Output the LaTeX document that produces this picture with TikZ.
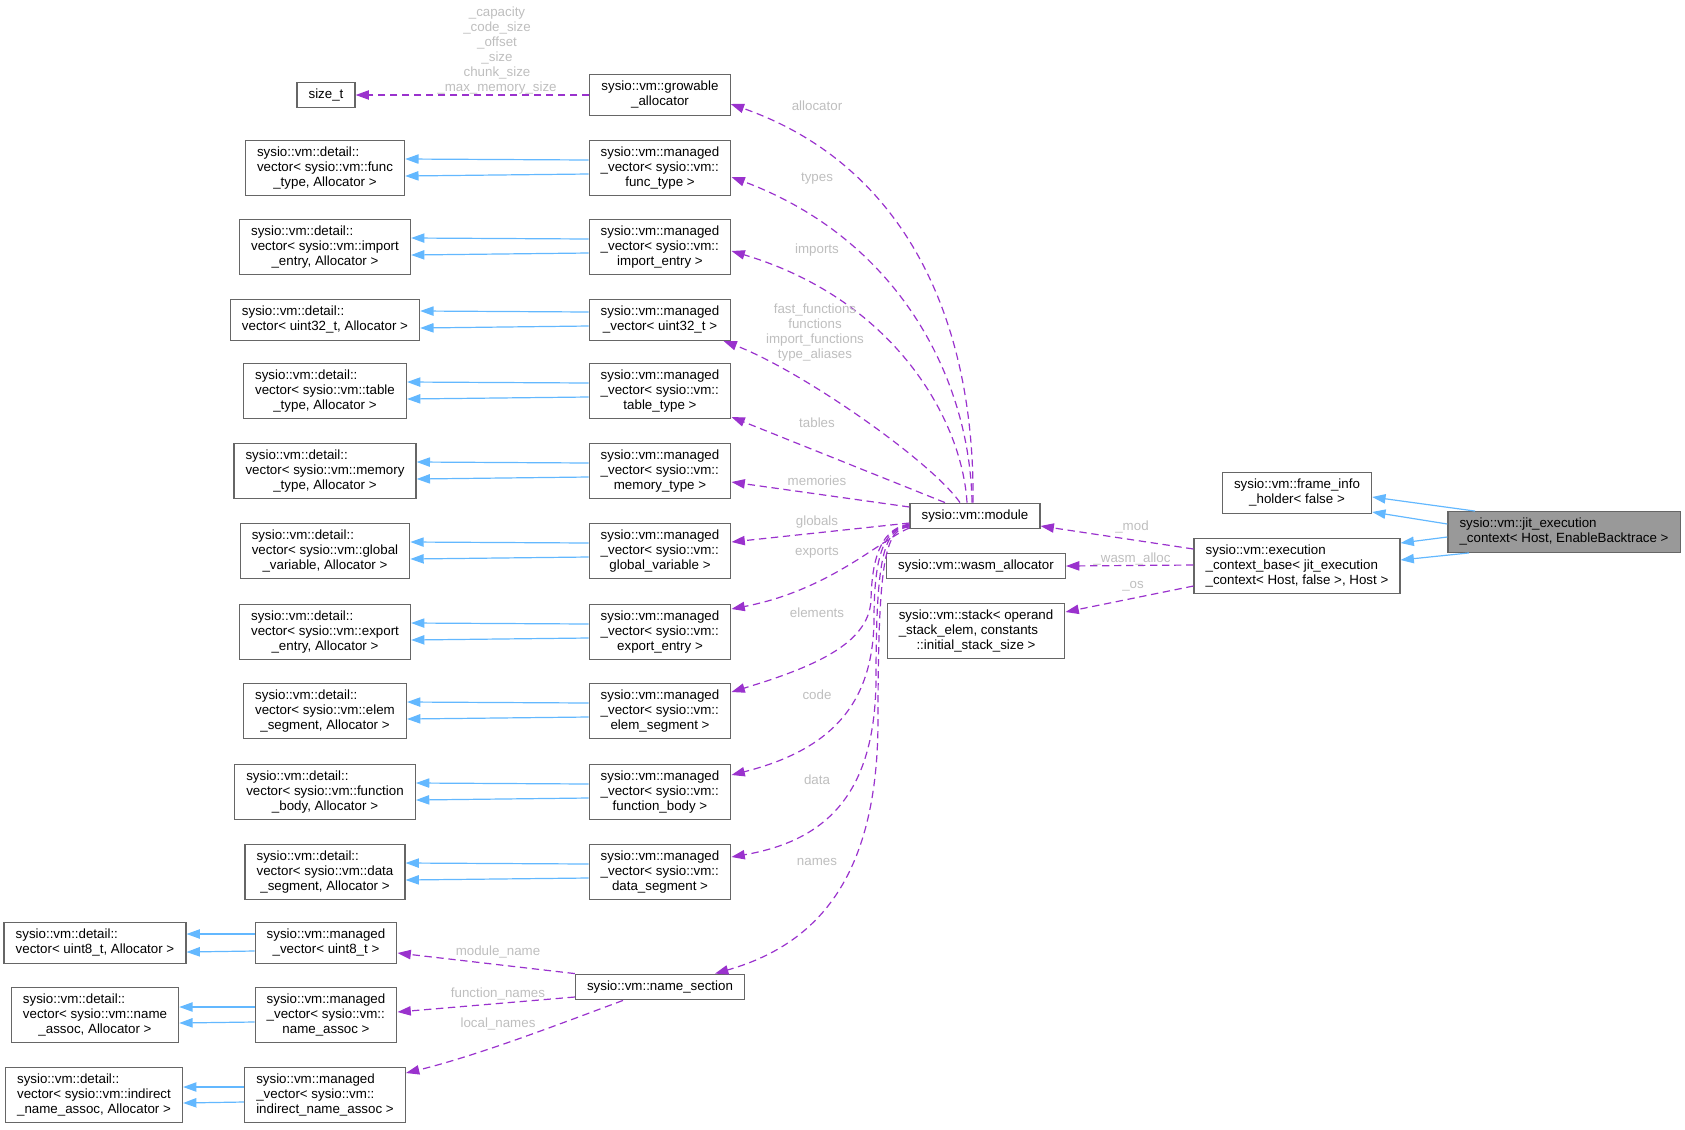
\documentclass[tikz,border=0pt]{standalone}
\usepackage{fontspec}
\setmainfont{Liberation Sans}
\usetikzlibrary{arrows.meta,calc}
\definecolor{boxline}{HTML}{666666}
\definecolor{curfill}{HTML}{999999}
\definecolor{membcol}{HTML}{9A32CD}
\definecolor{inhcol}{HTML}{63B8FF}
\definecolor{lblgrey}{HTML}{BEBEBE}
\newcommand{\boxlines}[2]{\begin{tabular}{@{}l@{}}#1\\\multicolumn{1}{@{}c@{}}{#2}\end{tabular}}
\tikzset{
  cls/.style={draw=boxline, fill=white, line width=0.9pt, inner xsep=8.7pt, inner ysep=4pt,
              font=\fontsize{10}{11.25}\selectfont},
  cur/.style={cls, fill=curfill},
  dep/.style={draw=membcol, line width=0.9pt, dash pattern=on 5.5pt off 3.5pt,
              -{Triangle[length=10pt,width=7pt]}},
  inh/.style={draw=inhcol, line width=0.9pt, -{Triangle[length=10pt,width=7pt]}},
  elbl/.style={font=\fontsize{10}{11.25}\selectfont, text=lblgrey, inner sep=0pt, align=center},
}

\begin{document}
\begin{tikzpicture}[x=0.75pt, y=-0.75pt]
\useasboundingbox (0,0) rectangle (1685,1129);

% --- MANAGED VECTORS ---
\node[cls] (sizet) at (326,95) {\strut size\_t};
\node[cls] (grow) at (660,95) {\boxlines{sysio::vm::growable}{\_allocator}};

\node[cls] (dvfunc) at (325,168) {\boxlines{sysio::vm::detail::\\vector< sysio::vm::func}{\_type, Allocator >}};
\node[cls] (mvfunc) at (660,168) {\boxlines{sysio::vm::managed\\\_vector< sysio::vm::}{func\_type >}};
\node[cls] (dvimp) at (325,247) {\boxlines{sysio::vm::detail::\\vector< sysio::vm::import}{\_entry, Allocator >}};
\node[cls] (mvimp) at (660,247) {\boxlines{sysio::vm::managed\\\_vector< sysio::vm::}{import\_entry >}};
\node[cls] (dvu32) at (325,320) {\boxlines{sysio::vm::detail::}{vector< uint32\_t, Allocator >}};
\node[cls] (mvu32) at (660,320) {\boxlines{sysio::vm::managed}{\_vector< uint32\_t >}};
\node[cls] (dvtab) at (325,391) {\boxlines{sysio::vm::detail::\\vector< sysio::vm::table}{\_type, Allocator >}};
\node[cls] (mvtab) at (660,391) {\boxlines{sysio::vm::managed\\\_vector< sysio::vm::}{table\_type >}};
\node[cls] (dvmem) at (325,471) {\boxlines{sysio::vm::detail::\\vector< sysio::vm::memory}{\_type, Allocator >}};
\node[cls] (mvmem) at (660,471) {\boxlines{sysio::vm::managed\\\_vector< sysio::vm::}{memory\_type >}};
\node[cls] (dvglob) at (325,551) {\boxlines{sysio::vm::detail::\\vector< sysio::vm::global}{\_variable, Allocator >}};
\node[cls] (mvglob) at (660,551) {\boxlines{sysio::vm::managed\\\_vector< sysio::vm::}{global\_variable >}};
\node[cls] (dvexp) at (325,632) {\boxlines{sysio::vm::detail::\\vector< sysio::vm::export}{\_entry, Allocator >}};
\node[cls] (mvexp) at (660,632) {\boxlines{sysio::vm::managed\\\_vector< sysio::vm::}{export\_entry >}};
\node[cls] (dvelem) at (325,711) {\boxlines{sysio::vm::detail::\\vector< sysio::vm::elem}{\_segment, Allocator >}};
\node[cls] (mvelem) at (660,711) {\boxlines{sysio::vm::managed\\\_vector< sysio::vm::}{elem\_segment >}};
\node[cls] (dvbody) at (325,792) {\boxlines{sysio::vm::detail::\\vector< sysio::vm::function}{\_body, Allocator >}};
\node[cls] (mvbody) at (660,792) {\boxlines{sysio::vm::managed\\\_vector< sysio::vm::}{function\_body >}};
\node[cls] (dvdata) at (325,872) {\boxlines{sysio::vm::detail::\\vector< sysio::vm::data}{\_segment, Allocator >}};
\node[cls] (mvdata) at (660,872) {\boxlines{sysio::vm::managed\\\_vector< sysio::vm::}{data\_segment >}};

\draw[dep] (grow.west) -- (sizet.east);
\node[elbl] (lsize) at (497,51) {\_capacity\\\_code\_size\\\_offset\\\_size\\chunk\_size\\\_max\_memory\_size};

\draw[inh] ($(mvfunc.west)+(0,-8)$) -- ($(dvfunc.east)+(0,-9)$);
\draw[inh] ($(mvfunc.west)+(0,6)$) -- ($(dvfunc.east)+(0,8)$);
\draw[inh] ($(mvimp.west)+(0,-8)$) -- ($(dvimp.east)+(0,-9)$);
\draw[inh] ($(mvimp.west)+(0,6)$) -- ($(dvimp.east)+(0,8)$);
\draw[inh] ($(mvu32.west)+(0,-8)$) -- ($(dvu32.east)+(0,-9)$);
\draw[inh] ($(mvu32.west)+(0,6)$) -- ($(dvu32.east)+(0,8)$);
\draw[inh] ($(mvtab.west)+(0,-8)$) -- ($(dvtab.east)+(0,-9)$);
\draw[inh] ($(mvtab.west)+(0,6)$) -- ($(dvtab.east)+(0,8)$);
\draw[inh] ($(mvmem.west)+(0,-8)$) -- ($(dvmem.east)+(0,-9)$);
\draw[inh] ($(mvmem.west)+(0,6)$) -- ($(dvmem.east)+(0,8)$);
\draw[inh] ($(mvglob.west)+(0,-8)$) -- ($(dvglob.east)+(0,-9)$);
\draw[inh] ($(mvglob.west)+(0,6)$) -- ($(dvglob.east)+(0,8)$);
\draw[inh] ($(mvexp.west)+(0,-8)$) -- ($(dvexp.east)+(0,-9)$);
\draw[inh] ($(mvexp.west)+(0,6)$) -- ($(dvexp.east)+(0,8)$);
\draw[inh] ($(mvelem.west)+(0,-8)$) -- ($(dvelem.east)+(0,-9)$);
\draw[inh] ($(mvelem.west)+(0,6)$) -- ($(dvelem.east)+(0,8)$);
\draw[inh] ($(mvbody.west)+(0,-8)$) -- ($(dvbody.east)+(0,-9)$);
\draw[inh] ($(mvbody.west)+(0,6)$) -- ($(dvbody.east)+(0,8)$);
\draw[inh] ($(mvdata.west)+(0,-8)$) -- ($(dvdata.east)+(0,-9)$);
\draw[inh] ($(mvdata.west)+(0,6)$) -- ($(dvdata.east)+(0,8)$);

% --- NAME SECTION ---
\node[cls] (dvu8) at (95,943) {\boxlines{sysio::vm::detail::}{vector< uint8\_t, Allocator >}};
\node[cls] (mvu8) at (326,943) {\boxlines{sysio::vm::managed}{\_vector< uint8\_t >}};
\node[cls] (dvna) at (95,1015) {\boxlines{sysio::vm::detail::\\vector< sysio::vm::name}{\_assoc, Allocator >}};
\node[cls] (mvna) at (326,1015) {\boxlines{sysio::vm::managed\\\_vector< sysio::vm::}{name\_assoc >}};
\node[cls] (dvind) at (94,1095) {\boxlines{sysio::vm::detail::\\vector< sysio::vm::indirect}{\_name\_assoc, Allocator >}};
\node[cls] (mvind) at (325,1095) {\boxlines{sysio::vm::managed\\\_vector< sysio::vm::}{indirect\_name\_assoc >}};
\node[cls] (namesec) at (660,987) {\strut sysio::vm::name\_section};

\draw[inh] ($(mvu8.west)+(0,-9)$) -- ($(dvu8.east)+(0,-9)$);
\draw[inh] ($(mvu8.west)+(0,8)$) -- ($(dvu8.east)+(0,9)$);
\draw[inh] ($(mvna.west)+(0,-8)$) -- ($(dvna.east)+(0,-8)$);
\draw[inh] ($(mvna.west)+(0,7)$) -- ($(dvna.east)+(0,8)$);
\draw[inh] ($(mvind.west)+(0,-8)$) -- ($(dvind.east)+(0,-8)$);
\draw[inh] ($(mvind.west)+(0,7)$) -- ($(dvind.east)+(0,8)$);

\draw[dep] (namesec.north west) -- ($(mvu8.east)+(0,10)$);
\draw[dep] ($(namesec.west)+(0,10)$) -- ($(mvna.east)+(0,-3)$);
\draw[dep] ($(namesec.south)+(-37,0)$) .. controls (570,1020) and (480,1055) .. ($(mvind.east)+(0,-22)$);
\node[elbl] (lmodname) at (498,952) {module\_name};
\node[elbl] (lfnnames) at (498,994) {function\_names};
\node[elbl] (llocnames) at (498,1024) {local\_names};

% --- MODULE ---
\node[cls] (module) at (975,516) {\strut sysio::vm::module};
\node[cls] (wasm) at (976,566) {\strut sysio::vm::wasm\_allocator};
\node[cls] (stack) at (976,631) {\boxlines{sysio::vm::stack< operand\\\_stack\_elem, constants}{::initial\_stack\_size >}};

\draw[dep] ($(module.north)+(-2,0)$) .. controls (975,320) and (905,165) .. ($(grow.east)+(0,9)$);
\draw[dep] ($(module.north)+(-3,0)$) .. controls (970,380) and (900,240) .. ($(mvfunc.east)+(0,9)$);
\draw[dep] ($(module.north)+(-8,0)$) .. controls (962,420) and (895,300) .. ($(mvimp.east)+(0,4)$);
\draw[dep] ($(module.north)+(-15,0)$) .. controls (930,460) and (800,370) .. ($(mvu32.south east)+(-8,0)$);
\draw[dep] ($(module.north)+(-30,0)$) -- ($(mvtab.east)+(0,26)$);
\draw[dep] ($(module.west)+(0,-9)$) -- ($(mvmem.east)+(0,11)$);
\draw[dep] ($(module.west)+(0,7)$) -- ($(mvglob.east)+(0,-9)$);
\draw[dep] ($(module.west)+(0,12)$) .. controls (880,540) and (830,590) .. ($(mvexp.east)+(0,-23)$);
\draw[dep] ($(module.west)+(0,8)$) .. controls (885,528) and (872,550) .. (871,600)
  .. controls (869,645) and (810,668) .. ($(mvelem.east)+(0,-19)$);
\draw[dep] ($(module.west)+(0,9)$) .. controls (884,528) and (874,555) .. (874,620)
  .. controls (873,705) and (830,750) .. ($(mvbody.east)+(0,-17)$);
\draw[dep] ($(module.west)+(0,10)$) .. controls (884,528) and (876,555) .. (876,680)
  .. controls (875,790) and (830,840) .. ($(mvdata.east)+(0,-15)$);
\draw[dep] ($(module.west)+(0,11)$) .. controls (886,528) and (878,555) .. (878,720)
  .. controls (878,880) and (815,945) .. ($(namesec.north)+(55,0)$);

\node[elbl] (lalloc) at (817,106) {allocator};
\node[elbl] (ltypes) at (817,179) {types};
\node[elbl] (limports) at (817,250) {imports};
\node[elbl] (lfuncs) at (815,333) {fast\_functions\\functions\\import\_functions\\type\_aliases};
\node[elbl] (ltables) at (817,423) {tables};
\node[elbl] (lmems) at (817,481) {memories};
\node[elbl] (lglobs) at (817,522) {globals};
\node[elbl] (lexps) at (817,553) {exports};
\node[elbl] (lelems) at (817,613) {elements};
\node[elbl] (lcode) at (817,695) {code};
\node[elbl] (ldata) at (817,780) {data};
\node[elbl] (lnames) at (817,862) {names};

% --- EXECUTION CONTEXT ---
\node[cls] (frame) at (1297,493) {\boxlines{sysio::vm::frame\_info}{\_holder< false >}};
\node[cls] (exec) at (1297,566) {\boxlines{sysio::vm::execution\\\_context\_base< jit\_execution}{\_context< Host, false >, Host >}};
\node[cur] (jit) at (1564,532) {\boxlines{sysio::vm::jit\_execution}{\_context< Host, EnableBacktrace >}};

\draw[inh] ($(jit.north)+(-89,0)$) -- ($(frame.east)+(0,4)$);
\draw[inh] ($(jit.west)+(0,-8)$) -- ($(frame.east)+(0,19)$);
\draw[inh] ($(jit.west)+(0,5)$) -- ($(exec.east)+(0,-23)$);
\draw[inh] ($(jit.south)+(-95,0)$) -- ($(exec.east)+(0,-6)$);

\draw[dep] ($(exec.west)+(0,-17)$) -- ($(module.east)+(0,10)$);
\draw[dep] ($(exec.west)+(0,-1)$) -- (wasm.east);
\draw[dep] ($(exec.west)+(0,20)$) -- ($(stack.east)+(0,-19)$);
\node[elbl] (lmod) at (1132,527) {\_mod};
\node[elbl] (lwasm) at (1132,559) {\_wasm\_alloc};
\node[elbl] (los) at (1133,586) {\_os};

\end{tikzpicture}
\end{document}
